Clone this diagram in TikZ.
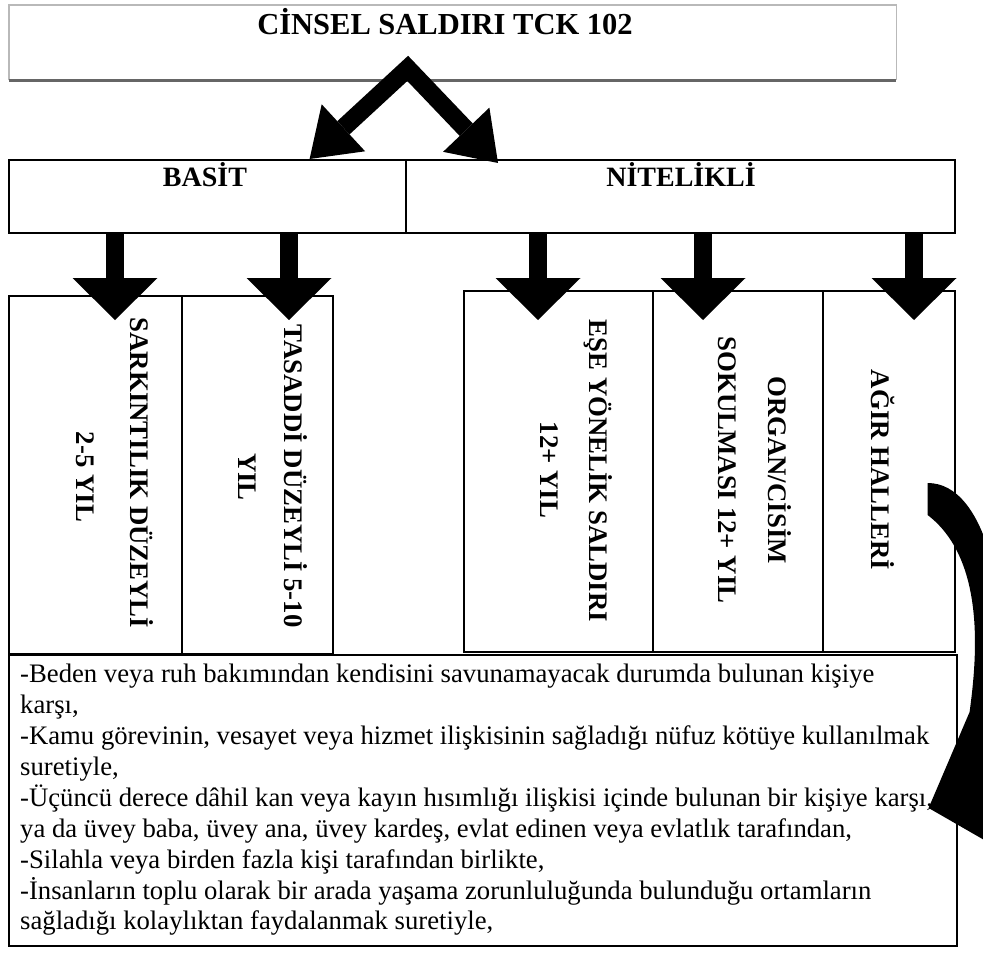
\documentclass[tikz,border=0pt]{standalone}
\usepackage{fontspec}
\setmainfont{Liberation Serif}
\usetikzlibrary{arrows.meta,calc}
\begin{document}
\begin{tikzpicture}[x=1pt,y=-1pt,
  frame/.style={draw=black, line width=1.6pt, inner sep=0pt, anchor=north west},
  headtxt/.style={font=\bfseries\fontsize{28}{31}\selectfont, inner sep=0pt},
  vlbl/.style={rotate=-90, font=\bfseries\fontsize{26.8}{30}\selectfont, inner sep=0pt, text height=18pt, text depth=0pt},
  blockarrow/.style={line width=18pt, -{Triangle[length=42pt,width=85pt,line width=0pt]}},
  forkarrow/.style={line width=18pt, line join=miter,
    {Triangle[length=46pt,width=64pt,line width=0pt]}-{Triangle[length=46pt,width=64pt,line width=0pt]}}
]
\useasboundingbox (0,0) rectangle (983,955);
\clip (0,0) rectangle (983,955);

% heading box with a shaded lower edge
\node[minimum width=887pt, minimum height=75pt, inner sep=0pt, anchor=north west] (topbox) at (9,5) {};
\draw[gray!55, line width=1.5pt] (topbox.south west) |- (topbox.north east) -- (topbox.south east);
\draw[black!60, line width=3.5pt] (topbox.south west) -- (topbox.south east);
\node[headtxt, font=\bfseries\fontsize{30.5}{33}\selectfont] (title) at (445,22) {CİNSEL SALDIRI TCK 102};

% the two kinds of offence
\node[frame, minimum width=397pt, minimum height=73pt] (basit) at (8,159) {};
\node[frame, minimum width=549pt, minimum height=73pt] (nitelikli) at (405,159) {};
\node[headtxt] (basitlbl) at (205,175) {BASİT};
\node[headtxt] (niteliklilbl) at (681,175) {NİTELİKLİ};

% tall boxes with vertical captions
\node[frame, minimum width=173pt, minimum height=358pt] (sark) at (8,295) {};
\node[frame, minimum width=151pt, minimum height=358pt] (tas) at (181,295) {};
\node[frame, minimum width=189pt, minimum height=361pt] (ese) at (463,290) {};
\node[frame, minimum width=170pt, minimum height=361pt] (org) at (652,290) {};
\node[frame, minimum width=132pt, minimum height=361pt] (agir) at (822,290) {};

\node[vlbl] (sark1) at (139,473) {SARKINTILIK DÜZEYLİ};
\node[vlbl] (sark2) at (85,477) {2-5 YIL};
\node[vlbl] (tas1) at (293,476) {TASADDİ DÜZEYLİ 5-10};
\node[vlbl] (tas2) at (247,477) {YIL};
\node[vlbl] (ese1) at (598,471) {EŞE YÖNELİK SALDIRI};
\node[vlbl] (ese2) at (549,470) {12+ YIL};
\node[vlbl] (org1) at (777,470) {ORGAN/CİSİM};
\node[vlbl] (org2) at (727,470) {SOKULMASI 12+ YIL};
\node[vlbl] (agir1) at (880,470) {AĞIR HALLERİ};

% list of aggravating circumstances
\node[frame, minimum width=948pt, minimum height=291pt] (body) at (8,654) {};
\node[anchor=north west, align=left, inner sep=0pt, font=\fontsize{26.7}{30.9}\selectfont] (bodytext) at (20,664) {%
-Beden veya ruh bakımından kendisini savunamayacak durumda bulunan kişiye\\
karşı,\\
-Kamu görevinin, vesayet veya hizmet ilişkisinin sağladığı nüfuz kötüye kullanılmak\\
suretiyle,\\
-Üçüncü derece dâhil kan veya kayın hısımlığı ilişkisi içinde bulunan bir kişiye karşı,\\
ya da üvey baba, üvey ana, üvey kardeş, evlat edinen veya evlatlık tarafından,\\
-Silahla veya birden fazla kişi tarafından birlikte,\\
-İnsanların toplu olarak bir arada yaşama zorunluluğunda bulunduğu ortamların\\
sağladığı kolaylıktan faydalanmak suretiyle,};

% connectors
\coordinate (apex) at ($(topbox.south)+(-45,-12)$);
\draw[forkarrow] ($(basit.north east)+(-97,0)$) -- (apex) -- ($(nitelikli.north west)+(93,4)$);

\coordinate (a1) at (115,0);
\coordinate (a2) at (289,0);
\coordinate (a3) at (538,0);
\coordinate (a4) at (703,0);
\coordinate (a5) at (914,0);
\draw[blockarrow] (basit.south -| a1) -- ($(sark.north -| a1)+(0,25)$);
\draw[blockarrow] (basit.south -| a2) -- ($(tas.north -| a2)+(0,25)$);
\draw[blockarrow] (nitelikli.south -| a3) -- ($(ese.north -| a3)+(0,30)$);
\draw[blockarrow] (nitelikli.south -| a4) -- ($(org.north -| a4)+(0,30)$);
\draw[blockarrow] (nitelikli.south -| a5) -- ($(agir.north -| a5)+(0,30)$);

% crescent arrow from the aggravated cases down to the list
\coordinate (ctail) at ($(agir.north east)+(-28,209)$);
\coordinate (ctip) at ($(body.north east)+(-29,154)$);
\begin{scope}[shift={(ctail)}]
  \fill[black] (0,-16) .. controls (59,-16) and (84,101) .. (74,221)
    -- (74,351) -- ($(ctip)-(ctail)$) -- (42,213)
    .. controls (49,161) and (59,61) .. (0,16) -- cycle;
\end{scope}
\end{tikzpicture}
\end{document}
